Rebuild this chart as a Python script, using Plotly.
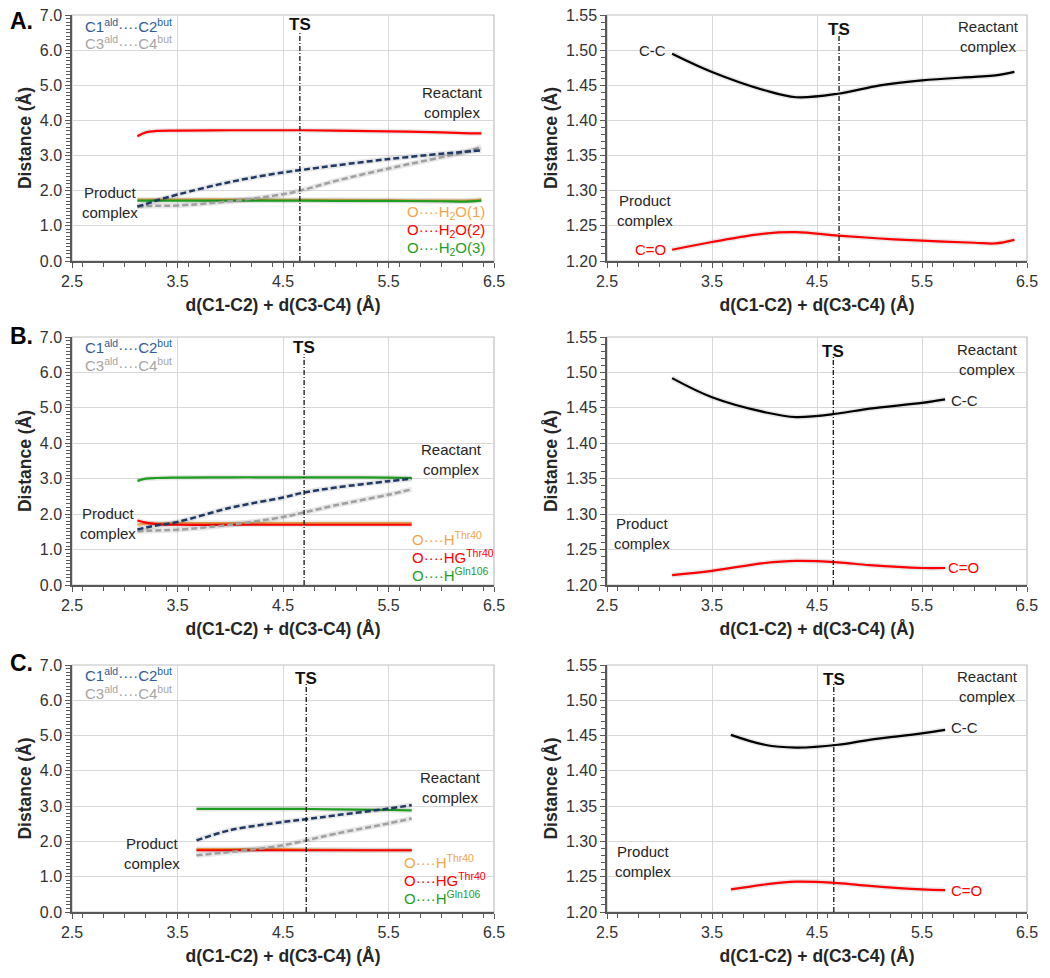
import plotly.graph_objects as go
from plotly.subplots import make_subplots

# the page body adds an 8 px margin, so the figure is 8 px smaller on each side
OFF = 8
W, H = 1050 - OFF, 978 - OFF
FONT = "Arial, Liberation Sans, sans-serif"


def fx(px):
    return (px - OFF) / W


def fy(py):
    return 1 - (py - OFF) / H


# ---- colours
BLUE = "#1F3864"
GRAY = "#A0A0A0"
RED = "#FF0000"
ORANGE = "#F5A54A"
GREEN = "#1E9E1E"
LBLUE = "#2E5C9A"
LGRAY = "#A6A6A6"

# ---- Panel A (water)
a_x = [3.12, 3.2, 3.3, 3.5, 4.0, 4.5, 4.7, 5.0, 5.5, 6.0, 6.2, 6.38]
a_h2o2 = [3.55, 3.66, 3.70, 3.71, 3.72, 3.72, 3.72, 3.71, 3.69, 3.66, 3.64, 3.63]
a_c1c2 = [1.55, 1.62, 1.72, 1.89, 2.25, 2.52, 2.60, 2.72, 2.90, 3.05, 3.10, 3.15]
a_c3c4 = [1.55, 1.56, 1.57, 1.58, 1.70, 1.90, 2.03, 2.28, 2.63, 2.95, 3.08, 3.25]
a_h2o1 = [1.75, 1.75, 1.75, 1.75, 1.75, 1.74, 1.74, 1.74, 1.73, 1.72, 1.72, 1.75]
a_h2o3 = [1.72, 1.72, 1.72, 1.72, 1.72, 1.72, 1.72, 1.71, 1.71, 1.70, 1.69, 1.72]

a_bx = [3.12, 3.5, 4.0, 4.3, 4.7, 5.1, 5.5, 6.0, 6.2, 6.38]
a_cc = [1.495, 1.469, 1.443, 1.433, 1.438, 1.450, 1.457, 1.462, 1.464, 1.469]
a_co = [1.216, 1.227, 1.239, 1.241, 1.236, 1.232, 1.229, 1.226, 1.225, 1.230]

# ---- Panel B
b_x = [3.12, 3.2, 3.3, 3.5, 4.0, 4.5, 4.7, 5.0, 5.5, 5.72]
b_gln = [2.94, 3.00, 3.02, 3.03, 3.04, 3.04, 3.04, 3.04, 3.03, 3.02]
b_hg = [1.82, 1.76, 1.72, 1.70, 1.70, 1.70, 1.70, 1.70, 1.70, 1.70]
b_h = [1.70, 1.73, 1.74, 1.75, 1.75, 1.75, 1.75, 1.75, 1.75, 1.75]
b_c1c2 = [1.57, 1.62, 1.68, 1.78, 2.18, 2.47, 2.61, 2.75, 2.93, 3.00]
b_c3c4 = [1.52, 1.53, 1.54, 1.56, 1.70, 1.92, 2.05, 2.25, 2.55, 2.70]

b_bx = [3.12, 3.5, 4.0, 4.3, 4.7, 5.0, 5.5, 5.72]
b_cc = [1.492, 1.465, 1.444, 1.437, 1.442, 1.449, 1.457, 1.462]
b_co = [1.214, 1.220, 1.231, 1.234, 1.232, 1.228, 1.224, 1.224]

# ---- Panel C
c_x = [3.68, 4.0, 4.5, 4.72, 5.0, 5.5, 5.72]
c_gln = [2.92, 2.92, 2.92, 2.92, 2.91, 2.89, 2.88]
c_hg = [1.75, 1.75, 1.75, 1.75, 1.75, 1.75, 1.75]
c_h = [1.78, 1.78, 1.78, 1.77, 1.76, 1.75, 1.75]
c_c1c2 = [2.03, 2.32, 2.55, 2.63, 2.74, 2.93, 3.03]
c_c3c4 = [1.61, 1.70, 1.89, 2.03, 2.22, 2.51, 2.65]

c_bx = [3.68, 4.0, 4.3, 4.7, 5.0, 5.5, 5.72]
c_cc = [1.451, 1.437, 1.433, 1.437, 1.444, 1.453, 1.458]
c_co = [1.232, 1.239, 1.243, 1.241, 1.237, 1.232, 1.231]

ts_left = [4.66, 4.70, 4.72]
ts_right = [4.71, 4.655, 4.66]

fig = make_subplots(rows=3, cols=2)


def line(x, y, color, row, col, dash="solid", width=2.2):
    # soft shadow under each curve, like the Excel glow
    fig.add_trace(go.Scatter(x=x, y=y, mode="lines", line_shape="spline",
                             line=dict(color="rgba(0,0,0,0.09)", width=width + 3),
                             hoverinfo="skip", showlegend=False), row=row, col=col)
    fig.add_trace(go.Scatter(x=x, y=y, mode="lines", line_shape="spline",
                             line=dict(color=color, width=width, dash=dash),
                             showlegend=False), row=row, col=col)


# left panels
left = [
    (a_x, a_h2o2, a_h2o1, a_h2o3, a_c1c2, a_c3c4, "water"),
    (b_x, b_hg, b_h, b_gln, b_c1c2, b_c3c4, "protein"),
    (c_x, c_hg, c_h, c_gln, c_c1c2, c_c3c4, "protein"),
]
for i, (x, red, orange, green, blue, gray, kind) in enumerate(left):
    r = i + 1
    if kind == "water":
        line(x, red, RED, r, 1)
        line(x, orange, ORANGE, r, 1)
        line(x, green, GREEN, r, 1)
    else:
        line(x, green, GREEN, r, 1)
        line(x, orange, ORANGE, r, 1)
        line(x, red, RED, r, 1)
    line(x, gray, GRAY, r, 1, dash="6px,3px", width=2.5)
    line(x, blue, BLUE, r, 1, dash="6px,3px", width=2.5)

right = [(a_bx, a_cc, a_co), (b_bx, b_cc, b_co), (c_bx, c_cc, c_co)]
for i, (x, cc, co) in enumerate(right):
    line(x, cc, "black", i + 1, 2)
    line(x, co, RED, i + 1, 2)

# ---- layout / axes (positions in screen pixels)
lx = [fx(72), fx(494)]
rx = [fx(607), fx(1027)]
rows_px = [(15, 261), (337, 585), (665, 912)]

axis_common = dict(
    showgrid=True, gridcolor="#D9D9D9", gridwidth=1,
    showline=True, linecolor="#595959", linewidth=1.5,
    ticks="outside", ticklen=5, tickcolor="#595959",
    tickfont=dict(family=FONT, size=16, color="#333333"),
    zeroline=False, automargin=False, ticklabeloverflow="allow",
)
title_font = dict(family=FONT, size=17.5, color="#262626")

for i, (top, bot) in enumerate(rows_px):
    dom = [fy(bot), fy(top)]
    for j, xd in enumerate([lx, rx]):
        n = i * 2 + j + 1
        sx = "xaxis" if n == 1 else f"xaxis{n}"
        sy = "yaxis" if n == 1 else f"yaxis{n}"
        fig.layout[sx].update(
            domain=xd, range=[2.5, 6.5], tick0=2.5, dtick=1, tickformat=".1f",
            minor=dict(dtick=0.2, ticks="outside", ticklen=4, tickcolor="#595959", showgrid=False),
            title=dict(text="<b>d(C1-C2) + d(C3-C4) (Å)</b>", font=title_font, standoff=10),
            **axis_common)
        if j == 0:
            yr, yd, yf, ym = [0, 7.0], 1.0, ".1f", 0.1
        else:
            yr, yd, yf, ym = [1.20, 1.55], 0.05, ".2f", 0.01
        fig.layout[sy].update(
            domain=dom, range=yr, tick0=yr[0], dtick=yd, tickformat=yf,
            minor=dict(dtick=ym, ticks="outside", ticklen=4, tickcolor="#595959", showgrid=False),
            title=dict(text="<b>Distance (Å)</b>", font=title_font, standoff=4),
            **axis_common)
        xr = "x" if n == 1 else f"x{n}"
        yrf = "y" if n == 1 else f"y{n}"
        # light gray frame (top/right)
        fig.add_shape(type="rect", xref=f"{xr} domain", yref=f"{yrf} domain",
                      x0=0, x1=1, y0=0, y1=1, line=dict(color="#BFBFBF", width=1.2),
                      layer="below")
        # TS marker line
        tsx = ts_left[i] if j == 0 else ts_right[i]
        fig.add_shape(type="line", xref=xr, yref=f"{yrf} domain",
                      x0=tsx, x1=tsx, y0=0, y1=0.93,
                      line=dict(color="black", width=1.2, dash="5px,2px,1px,2px"))


def ann(text, x, y, ref, color="#262626", size=15, xanchor="center", bold=False):
    n = ref
    xr = "x" if n == 1 else f"x{n}"
    yr = "y" if n == 1 else f"y{n}"
    if bold:
        text = f"<b>{text}</b>"
    fig.add_annotation(text=text, x=x, y=y, xref=xr, yref=yr, showarrow=False,
                       xanchor=xanchor, yanchor="middle",
                       font=dict(family=FONT, size=size, color=color))


C12 = "C1<sup>ald</sup>····C2<sup>but</sup>"
C34 = "C3<sup>ald</sup>····C4<sup>but</sup>"
TSC = "#111111"

# Panel A left
ann(C12, 2.6, 6.71, 1, LBLUE, xanchor="left")
ann(C34, 2.6, 6.23, 1, LGRAY, xanchor="left")
ann("TS", ts_left[0], 6.72, 1, TSC, 17, bold=True)
ann("Reactant<br>complex", 6.11, 4.52, 1)
ann("Product<br>complex", 2.86, 1.67, 1)
ann("O····H<sub>2</sub>O(1)", 6.43, 1.39, 1, ORANGE, xanchor="right")
ann("O····H<sub>2</sub>O(2)", 6.43, 0.88, 1, RED, xanchor="right")
ann("O····H<sub>2</sub>O(3)", 6.43, 0.36, 1, GREEN, xanchor="right")

# Panel A right
ann("C-C", 3.08, 1.50, 2, xanchor="right")
ann("C=O", 3.08, 1.217, 2, RED, xanchor="right")
ann("TS", ts_right[0], 1.529, 2, TSC, 17, bold=True)
ann("Reactant<br>complex", 6.13, 1.52, 2)
ann("Product<br>complex", 2.86, 1.272, 2)

# Panel B left
ann(C12, 2.6, 6.72, 3, LBLUE, xanchor="left")
ann(C34, 2.6, 6.21, 3, LGRAY, xanchor="left")
ann("TS", ts_left[1], 6.69, 3, TSC, 17, bold=True)
ann("Reactant<br>complex", 6.10, 3.55, 3)
ann("Product<br>complex", 2.84, 1.75, 3)
ann("O····H<sup>Thr40</sup>", 5.70, 1.32, 3, ORANGE, xanchor="left")
ann("O····HG<sup>Thr40</sup>", 5.70, 0.81, 3, RED, xanchor="left")
ann("O····H<sup>Gln106</sup>", 5.70, 0.31, 3, GREEN, xanchor="left")

# Panel B right
ann("TS", ts_right[1], 1.530, 4, TSC, 17, bold=True)
ann("Reactant<br>complex", 6.12, 1.518, 4)
ann("C-C", 5.76, 1.461, 4, xanchor="left")
ann("C=O", 5.73, 1.225, 4, RED, xanchor="left")
ann("Product<br>complex", 2.83, 1.273, 4)

# Panel C left
ann(C12, 2.6, 6.72, 5, LBLUE, xanchor="left")
ann(C34, 2.6, 6.21, 5, LGRAY, xanchor="left")
ann("TS", ts_left[2], 6.63, 5, TSC, 17, bold=True)
ann("Reactant<br>complex", 6.09, 3.52, 5)
ann("Product<br>complex", 3.26, 1.67, 5)
ann("O····H<sup>Thr40</sup>", 5.63, 1.42, 5, ORANGE, xanchor="left")
ann("O····HG<sup>Thr40</sup>", 5.63, 0.91, 5, RED, xanchor="left")
ann("O····H<sup>Gln106</sup>", 5.63, 0.40, 5, GREEN, xanchor="left")

# Panel C right
ann("TS", ts_right[2], 1.529, 6, TSC, 17, bold=True)
ann("Reactant<br>complex", 6.12, 1.519, 6)
ann("C-C", 5.76, 1.462, 6, xanchor="left")
ann("C=O", 5.76, 1.230, 6, RED, xanchor="left")
ann("Product<br>complex", 2.84, 1.272, 6)

# panel letters (A. nudged down so the div edge does not clip it)
for letter, ypx in [("A.", 21), ("B.", 336), ("C.", 663)]:
    fig.add_annotation(text=f"<b>{letter}</b>", x=fx(8), y=fy(ypx),
                       xref="paper", yref="paper", showarrow=False,
                       xanchor="left", yanchor="middle",
                       font=dict(family=FONT, size=23, color="black"))

fig.update_layout(
    width=W, height=H,
    margin=dict(l=0, r=0, t=0, b=0),
    paper_bgcolor="white", plot_bgcolor="white",
    showlegend=False,
)

fig.write_html("out.html")
